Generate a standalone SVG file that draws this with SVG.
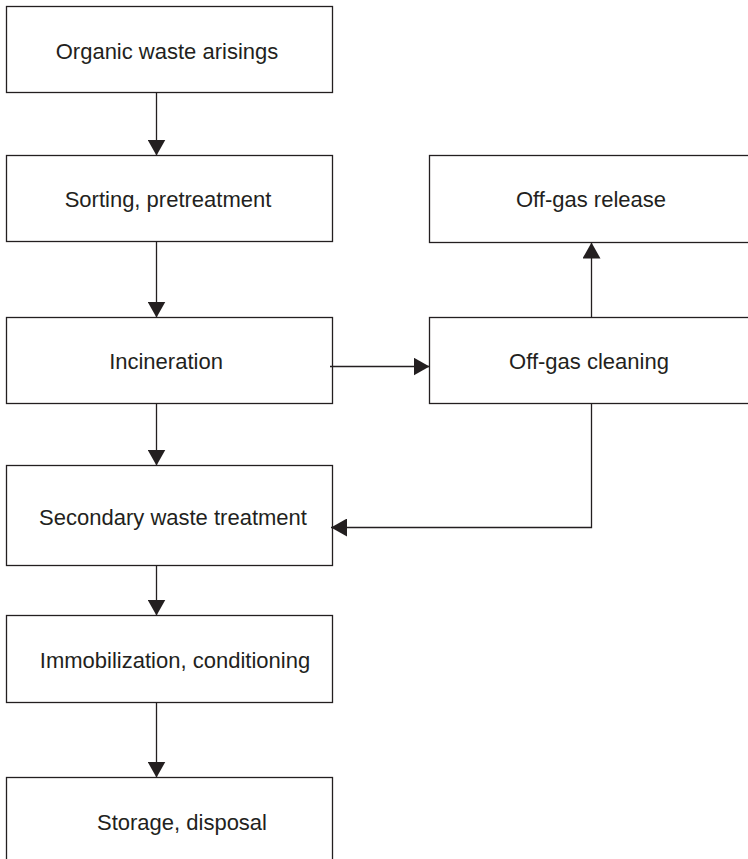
<svg xmlns="http://www.w3.org/2000/svg" width="748" height="859" viewBox="0 0 748 859">
<style>
.box{fill:#fff;stroke:#231f20;stroke-width:1.3}
.lbl{font-family:"Liberation Sans",Arial,sans-serif;font-size:22px;fill:#231f20;text-anchor:middle}
.ln{fill:none;stroke:#231f20;stroke-width:1.3}
</style>
<defs>
<marker id="ah" viewBox="0 0 16 18" refX="16" refY="9" markerWidth="16" markerHeight="18" markerUnits="userSpaceOnUse" orient="auto">
<path d="M0,0 L16,9 L0,18 Z" fill="#231f20"/>
</marker>
</defs>
<rect width="748" height="859" fill="#fff"/>
<g id="n1"><rect class="box" x="6.5" y="6.5" width="326" height="86"/><text class="lbl" x="167" y="59">Organic waste arisings</text></g>
<g id="n2"><rect class="box" x="6.5" y="155.5" width="326" height="86"/><text class="lbl" x="168" y="207">Sorting, pretreatment</text></g>
<g id="n3"><rect class="box" x="6.5" y="317.5" width="326" height="86"/><text class="lbl" x="166" y="369">Incineration</text></g>
<g id="n4"><rect class="box" x="6.5" y="465.5" width="326" height="100"/><text class="lbl" x="173" y="525">Secondary waste treatment</text></g>
<g id="n5"><rect class="box" x="6.5" y="615.5" width="326" height="87"/><text class="lbl" x="175" y="668">Immobilization, conditioning</text></g>
<g id="n6"><rect class="box" x="6.5" y="777.5" width="326" height="100"/><text class="lbl" x="182" y="830">Storage, disposal</text></g>
<g id="n7"><rect class="box" x="429.5" y="155.5" width="330" height="87"/><text class="lbl" x="591" y="207">Off-gas release</text></g>
<g id="n8"><rect class="box" x="429.5" y="317.5" width="330" height="86"/><text class="lbl" x="589" y="369">Off-gas cleaning</text></g>
<g id="connectors">
<line class="ln" x1="156.5" y1="92.5" x2="156.5" y2="155.5" marker-end="url(#ah)"/>
<line class="ln" x1="156.5" y1="241.5" x2="156.5" y2="317.5" marker-end="url(#ah)"/>
<line class="ln" x1="156.5" y1="403.5" x2="156.5" y2="465.5" marker-end="url(#ah)"/>
<line class="ln" x1="156.5" y1="565.5" x2="156.5" y2="615.5" marker-end="url(#ah)"/>
<line class="ln" x1="156.5" y1="702.5" x2="156.5" y2="777.5" marker-end="url(#ah)"/>
<line class="ln" x1="330" y1="366.5" x2="429.5" y2="366.5" marker-end="url(#ah)"/>
<line class="ln" x1="591.5" y1="317.5" x2="591.5" y2="242.5" marker-end="url(#ah)"/>
<polyline class="ln" points="591.5,403.5 591.5,527.5 331,527.5" marker-end="url(#ah)"/>
</g>
</svg>
